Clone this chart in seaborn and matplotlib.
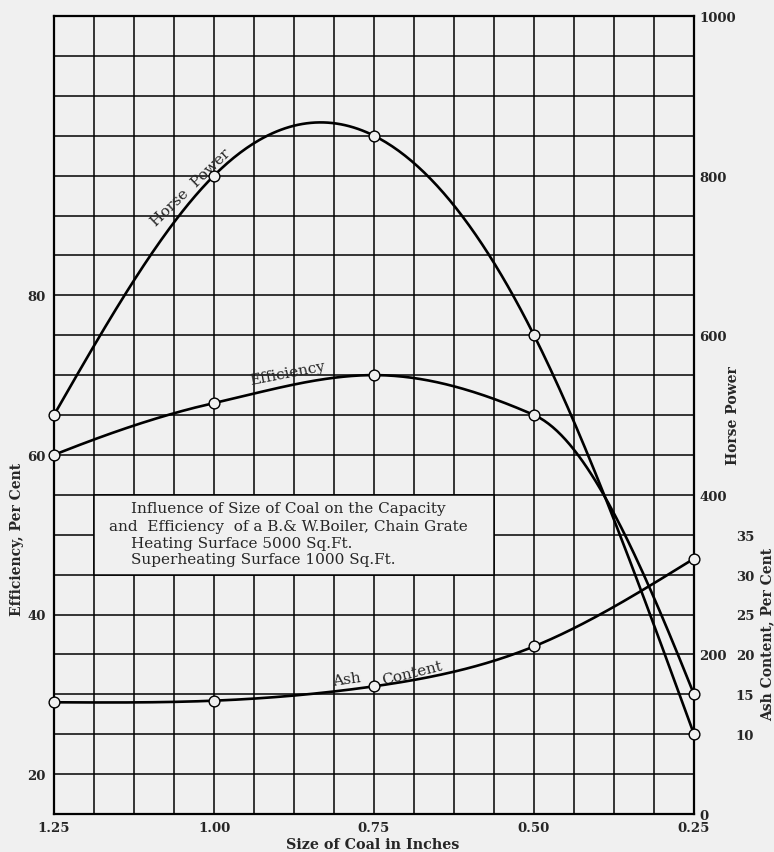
import numpy as np
import matplotlib
matplotlib.use("Agg")
import matplotlib.pyplot as plt
from matplotlib.ticker import FixedLocator, MultipleLocator
from matplotlib.patches import Rectangle
import seaborn as sns

# values
size_in = [1.25, 1.00, 0.75, 0.50, 0.25]
efficiency = [60, 66.5, 70, 65, 30]
horse_power = [500, 800, 850, 600, 100]
ash_content = [14, 14.2, 16, 21, 32]

x_ticks = [1.25, 1.00, 0.75, 0.50, 0.25]
eff_ticks = [20, 40, 60, 80]
hp_ticks = [0, 200, 400, 600, 800, 1000]
ash_ticks = [10, 15, 20, 25, 30, 35]

note_lines = [
    "Influence of Size of Coal on the Capacity",
    "and  Efficiency  of a B.& W.Boiler, Chain Grate",
    "Heating Surface 5000 Sq.Ft.",
    "Superheating Surface 1000 Sq.Ft.",
]

PAPER = "#f0f0f0"
SERIF = ["DejaVu Serif"]


def natural_spline(x, y, n=300):
    # natural cubic spline, only used to draw a smooth curve through the points
    order = np.argsort(x)
    x = np.asarray(x, float)[order]
    y = np.asarray(y, float)[order]
    k = len(x)
    h = np.diff(x)
    A = np.zeros((k, k))
    r = np.zeros(k)
    A[0, 0] = A[-1, -1] = 1
    for i in range(1, k - 1):
        A[i, i - 1] = h[i - 1]
        A[i, i] = 2 * (h[i - 1] + h[i])
        A[i, i + 1] = h[i]
        r[i] = 6 * ((y[i + 1] - y[i]) / h[i] - (y[i] - y[i - 1]) / h[i - 1])
    M = np.linalg.solve(A, r)
    xs = np.linspace(x[0], x[-1], n)
    i = np.clip(np.searchsorted(x, xs) - 1, 0, k - 2)
    hi = h[i]
    a = x[i + 1] - xs
    b = xs - x[i]
    ys = (M[i] * a**3 + M[i + 1] * b**3) / (6 * hi) \
        + (y[i] / hi - M[i] * hi / 6) * a + (y[i + 1] / hi - M[i + 1] * hi / 6) * b
    return xs, ys


def pchip(x, y, n=300):
    # monotone cubic (Fritsch-Carlson), keeps the peak on a data point
    order = np.argsort(x)
    x = np.asarray(x, float)[order]
    y = np.asarray(y, float)[order]
    h = np.diff(x)
    dl = np.diff(y) / h
    d = np.zeros_like(y)
    for i in range(1, len(x) - 1):
        if dl[i - 1] * dl[i] > 0:
            w1 = 2 * h[i] + h[i - 1]
            w2 = h[i] + 2 * h[i - 1]
            d[i] = (w1 + w2) / (w1 / dl[i - 1] + w2 / dl[i])
    for j, (ha, hb, da, db) in ((0, (h[0], h[1], dl[0], dl[1])),
                                (-1, (h[-1], h[-2], dl[-1], dl[-2]))):
        e = ((2 * ha + hb) * da - ha * db) / (ha + hb)
        if np.sign(e) != np.sign(da):
            e = 0
        elif np.sign(da) != np.sign(db) and abs(e) > 3 * abs(da):
            e = 3 * da
        d[j] = e
    xs = np.linspace(x[0], x[-1], n)
    i = np.clip(np.searchsorted(x, xs) - 1, 0, len(x) - 2)
    t = (xs - x[i]) / h[i]
    ys = (2 * t**3 - 3 * t**2 + 1) * y[i] + (t**3 - 2 * t**2 + t) * h[i] * d[i] \
        + (-2 * t**3 + 3 * t**2) * y[i + 1] + (t**3 - t**2) * h[i] * d[i + 1]
    return xs, ys


sns.set_style("white")
plt.rcParams["font.family"] = SERIF
plt.rcParams["font.weight"] = "bold"

fig = plt.figure(figsize=(7.74, 8.53), dpi=100, facecolor=PAPER)
ax = fig.add_axes([54 / 774, 38 / 853, 640 / 774, 798 / 853])
ax.set_facecolor(PAPER)
ax2 = ax.twinx()
ax3 = ax.twinx()

ax.set_xlim(1.25, 0.25)
ax.set_ylim(15, 115)
ax2.set_ylim(0, 1000)
ax3.set_ylim(0, 100)

# grid: 16 columns, 20 rows
ax.xaxis.set_major_locator(FixedLocator(x_ticks))
ax.xaxis.set_minor_locator(MultipleLocator(0.0625))
ax.yaxis.set_major_locator(FixedLocator(eff_ticks))
ax.yaxis.set_minor_locator(MultipleLocator(5))
ax.grid(which="both", color="black", lw=1.1)
ax.set_axisbelow(True)
ax.set_xticklabels([f"{v:.2f}" for v in x_ticks])

ax2.yaxis.set_major_locator(FixedLocator(hp_ticks))
ax3.yaxis.set_major_locator(FixedLocator(ash_ticks))

ax.tick_params(axis="x", length=0, pad=5, labelsize=9.5)
ax.tick_params(axis="y", length=0, pad=6, labelsize=9.5)
ax.tick_params(which="minor", length=0)
ax2.tick_params(axis="y", length=0, pad=4, labelsize=9.5)
ax3.tick_params(axis="y", length=0, pad=30, labelsize=9.5)

for a in (ax, ax2, ax3):
    for s in a.spines.values():
        s.set_visible(a is ax)
        s.set_color("black")
        s.set_linewidth(1.6)

# explanatory box over the grid
ax.add_patch(Rectangle((1.1875, 45), -0.625, 10, facecolor=PAPER,
                       edgecolor="black", lw=1.1, zorder=1))
note_x = [1.13, 1.164, 1.13, 1.13]
note_y = [53.4, 51.1, 49.0, 46.9]
for tx, ty, line in zip(note_x, note_y, note_lines):
    ax.text(tx, ty, line, ha="left", va="center", fontsize=11,
            fontweight="normal", zorder=3)

# curves
curves = ((ax, efficiency, pchip), (ax2, horse_power, natural_spline),
          (ax3, ash_content, natural_spline))
for a, yv, fit in curves:
    xs, ys = fit(size_in, yv)
    sns.lineplot(x=xs, y=ys, ax=a, color="black", lw=1.9, sort=False,
                 estimator=None, zorder=4)
    sns.scatterplot(x=size_in, y=yv, ax=a, s=60, color=PAPER,
                    edgecolor="black", linewidth=1.0, zorder=5, clip_on=False)

# labels on the curves
ax2.text(1.037, 786, "Horse  Power", rotation=44, ha="center", va="center",
         fontsize=11, fontweight="normal")
ax.text(0.886, 70.3, "Efficiency", rotation=11, ha="center", va="center",
        fontsize=11, fontweight="normal")
ax3.text(0.792, 16.9, "Ash", rotation=8, ha="center", va="center",
         fontsize=11, fontweight="normal")
ax3.text(0.691, 17.7, "Content", rotation=14, ha="center", va="center",
         fontsize=11, fontweight="normal")

ax.set_xlabel("Size of Coal in Inches", fontsize=10.3, fontweight="bold")
ax.xaxis.set_label_coords(0.498, -0.029)
ax.set_ylabel("Efficiency, Per Cent", fontsize=10, fontweight="bold")
ax.yaxis.set_label_coords(-0.047, 0.345)
ax2.set_ylabel("Horse Power", fontsize=10, fontweight="bold")
ax2.yaxis.set_label_coords(1.050, 0.50)
ax3.set_ylabel("Ash Content, Per Cent", fontsize=10, fontweight="bold")
ax3.yaxis.set_label_coords(1.103, 0.226)

plt.savefig("out.png", dpi=100, facecolor=PAPER)
